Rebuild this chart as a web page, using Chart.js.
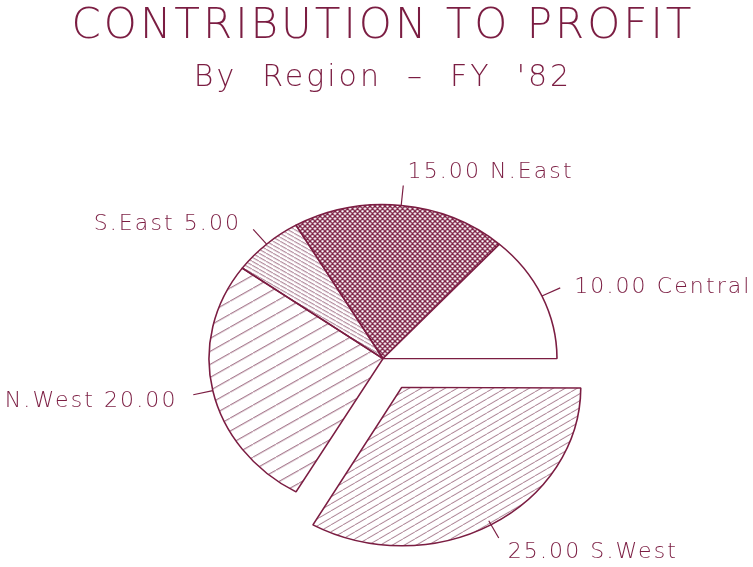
<!DOCTYPE html>
<html>
<head>
<meta charset="utf-8">
<script src="https://cdn.jsdelivr.net/npm/chart.js@4.4.0/dist/chart.umd.min.js"></script>
<style>
  html, body { margin: 0; padding: 0; background: #fff; }
</style>
</head>
<body>
<canvas id="chart" width="753" height="567"></canvas>
<script>
// data
var regions = ['N.East', 'Central', 'S.West', 'N.West', 'S.East'];
var profit = [15, 10, 25, 20, 5];
var explode = [0, 0, 150, 0, 0];   // chart.js v4 moves the slice by offset/4
var titleText = 'CONTRIBUTION TO PROFIT';
var subtitleText = "By  Region  \u2013  FY  '82";

var ink = '#7b1d42';
var fontFamily = '"DejaVu Sans", sans-serif';
var squash = 154 / 174; // the plotted pie is a bit flatter than round

// little tiles of parallel lines, like the plotter hatching
function hatch(w, h, dir, lw, color) {
    var c = document.createElement('canvas');
    c.width = w;
    c.height = h;
    var g = c.getContext('2d');
    g.strokeStyle = color;
    g.lineWidth = lw;
    g.beginPath();
    [-w, 0, w].forEach(function (s) {
        if (dir !== '\\') { g.moveTo(s, h); g.lineTo(s + w, 0); }
        if (dir !== '/') { g.moveTo(s, 0); g.lineTo(s + w, h); }
    });
    g.stroke();
    var p = g.createPattern(c, 'repeat');
    // undo the vertical squash so the hatch keeps its angle
    p.setTransform(new DOMMatrix([1, 0, 0, 1 / squash, 0, 0]));
    return p;
}

var fills = [
    hatch(5, 5, 'x', 1.3, ink),               // N.East cross hatch
    '#ffffff',                                 // Central empty
    hatch(12, 7, '/', 0.8, '#8a5068'),        // S.West
    hatch(23, 13, '/', 0.9, '#7e3a58'),       // N.West
    hatch(7, 4, '\\', 0.8, '#7e3a58')         // S.East
];

var squashPlugin = {
    id: 'squash',
    beforeDatasetsDraw: function (chart) {
        var arc = chart.getDatasetMeta(0).data[0];
        var ctx = chart.ctx;
        ctx.save();
        ctx.translate(arc.x, arc.y);
        ctx.scale(1, squash);
        ctx.translate(-arc.x, -arc.y);
    },
    afterDatasetsDraw: function (chart) {
        chart.ctx.restore();
    }
};

var spacingPlugin = {
    id: 'spacing',
    beforeDraw: function (chart) {
        chart.ctx.letterSpacing = '3px';
    }
};

// value labels with a short leader line, outside the pie
var labelPlugin = {
    id: 'sliceLabels',
    afterDraw: function (chart) {
        var ctx = chart.ctx;
        var meta = chart.getDatasetMeta(0);
        ctx.save();
        ctx.strokeStyle = ink;
        ctx.fillStyle = ink;
        ctx.lineWidth = 1.2;
        ctx.font = '200 22px ' + fontFamily;
        ctx.letterSpacing = '2.1px';
        ctx.textBaseline = 'middle';
        meta.data.forEach(function (arc, i) {
            var a = (arc.startAngle + arc.endAngle) / 2;
            var cos = Math.cos(a), sin = Math.sin(a);
            var r = arc.outerRadius + (arc.options.offset || 0) / 4;
            var x0 = arc.x + cos * r;
            var y0 = arc.y + sin * r * squash;
            var x1 = x0 + cos * 20;
            var y1 = y0 + sin * 20;
            ctx.beginPath();
            ctx.moveTo(x0, y0);
            ctx.lineTo(x1, y1);
            ctx.stroke();
            var val = profit[i].toFixed(2);
            var right = cos >= 0;
            ctx.textAlign = right ? 'left' : 'right';
            var txt = right ? val + ' ' + regions[i] : regions[i] + ' ' + val;
            var tx = x1 + cos * 12 + (right ? 3 : -4);
            var ty = y1 + sin * 12 + 4 + (sin < -0.9 ? -5 : 0);
            ctx.fillText(txt, tx, ty);
        });
        ctx.restore();
    }
};

var chart = new Chart(document.getElementById('chart'), {
    type: 'pie',
    data: {
        labels: regions,
        datasets: [{
            data: profit,
            backgroundColor: fills,
            borderColor: ink,
            borderWidth: 1.6,
            offset: explode,
            hoverOffset: 0,
            clip: false
        }]
    },
    options: {
        responsive: false,
        animation: false,
        events: [],
        rotation: -30,
        radius: 174,
        layout: { padding: { left: 13, top: 0, right: 0, bottom: 0 } },
        plugins: {
            legend: { display: false },
            tooltip: { enabled: false },
            title: {
                display: true,
                text: titleText,
                color: ink,
                font: { family: fontFamily, size: 42, weight: '200', lineHeight: 1.1 },
                padding: { top: 4, bottom: 0 }
            },
            subtitle: {
                display: true,
                text: subtitleText,
                color: ink,
                font: { family: fontFamily, size: 30, weight: '200', lineHeight: 1.2 },
                padding: { top: 10, bottom: 54 }
            }
        }
    },
    plugins: [spacingPlugin, squashPlugin, labelPlugin]
});
</script>
</body>
</html>
